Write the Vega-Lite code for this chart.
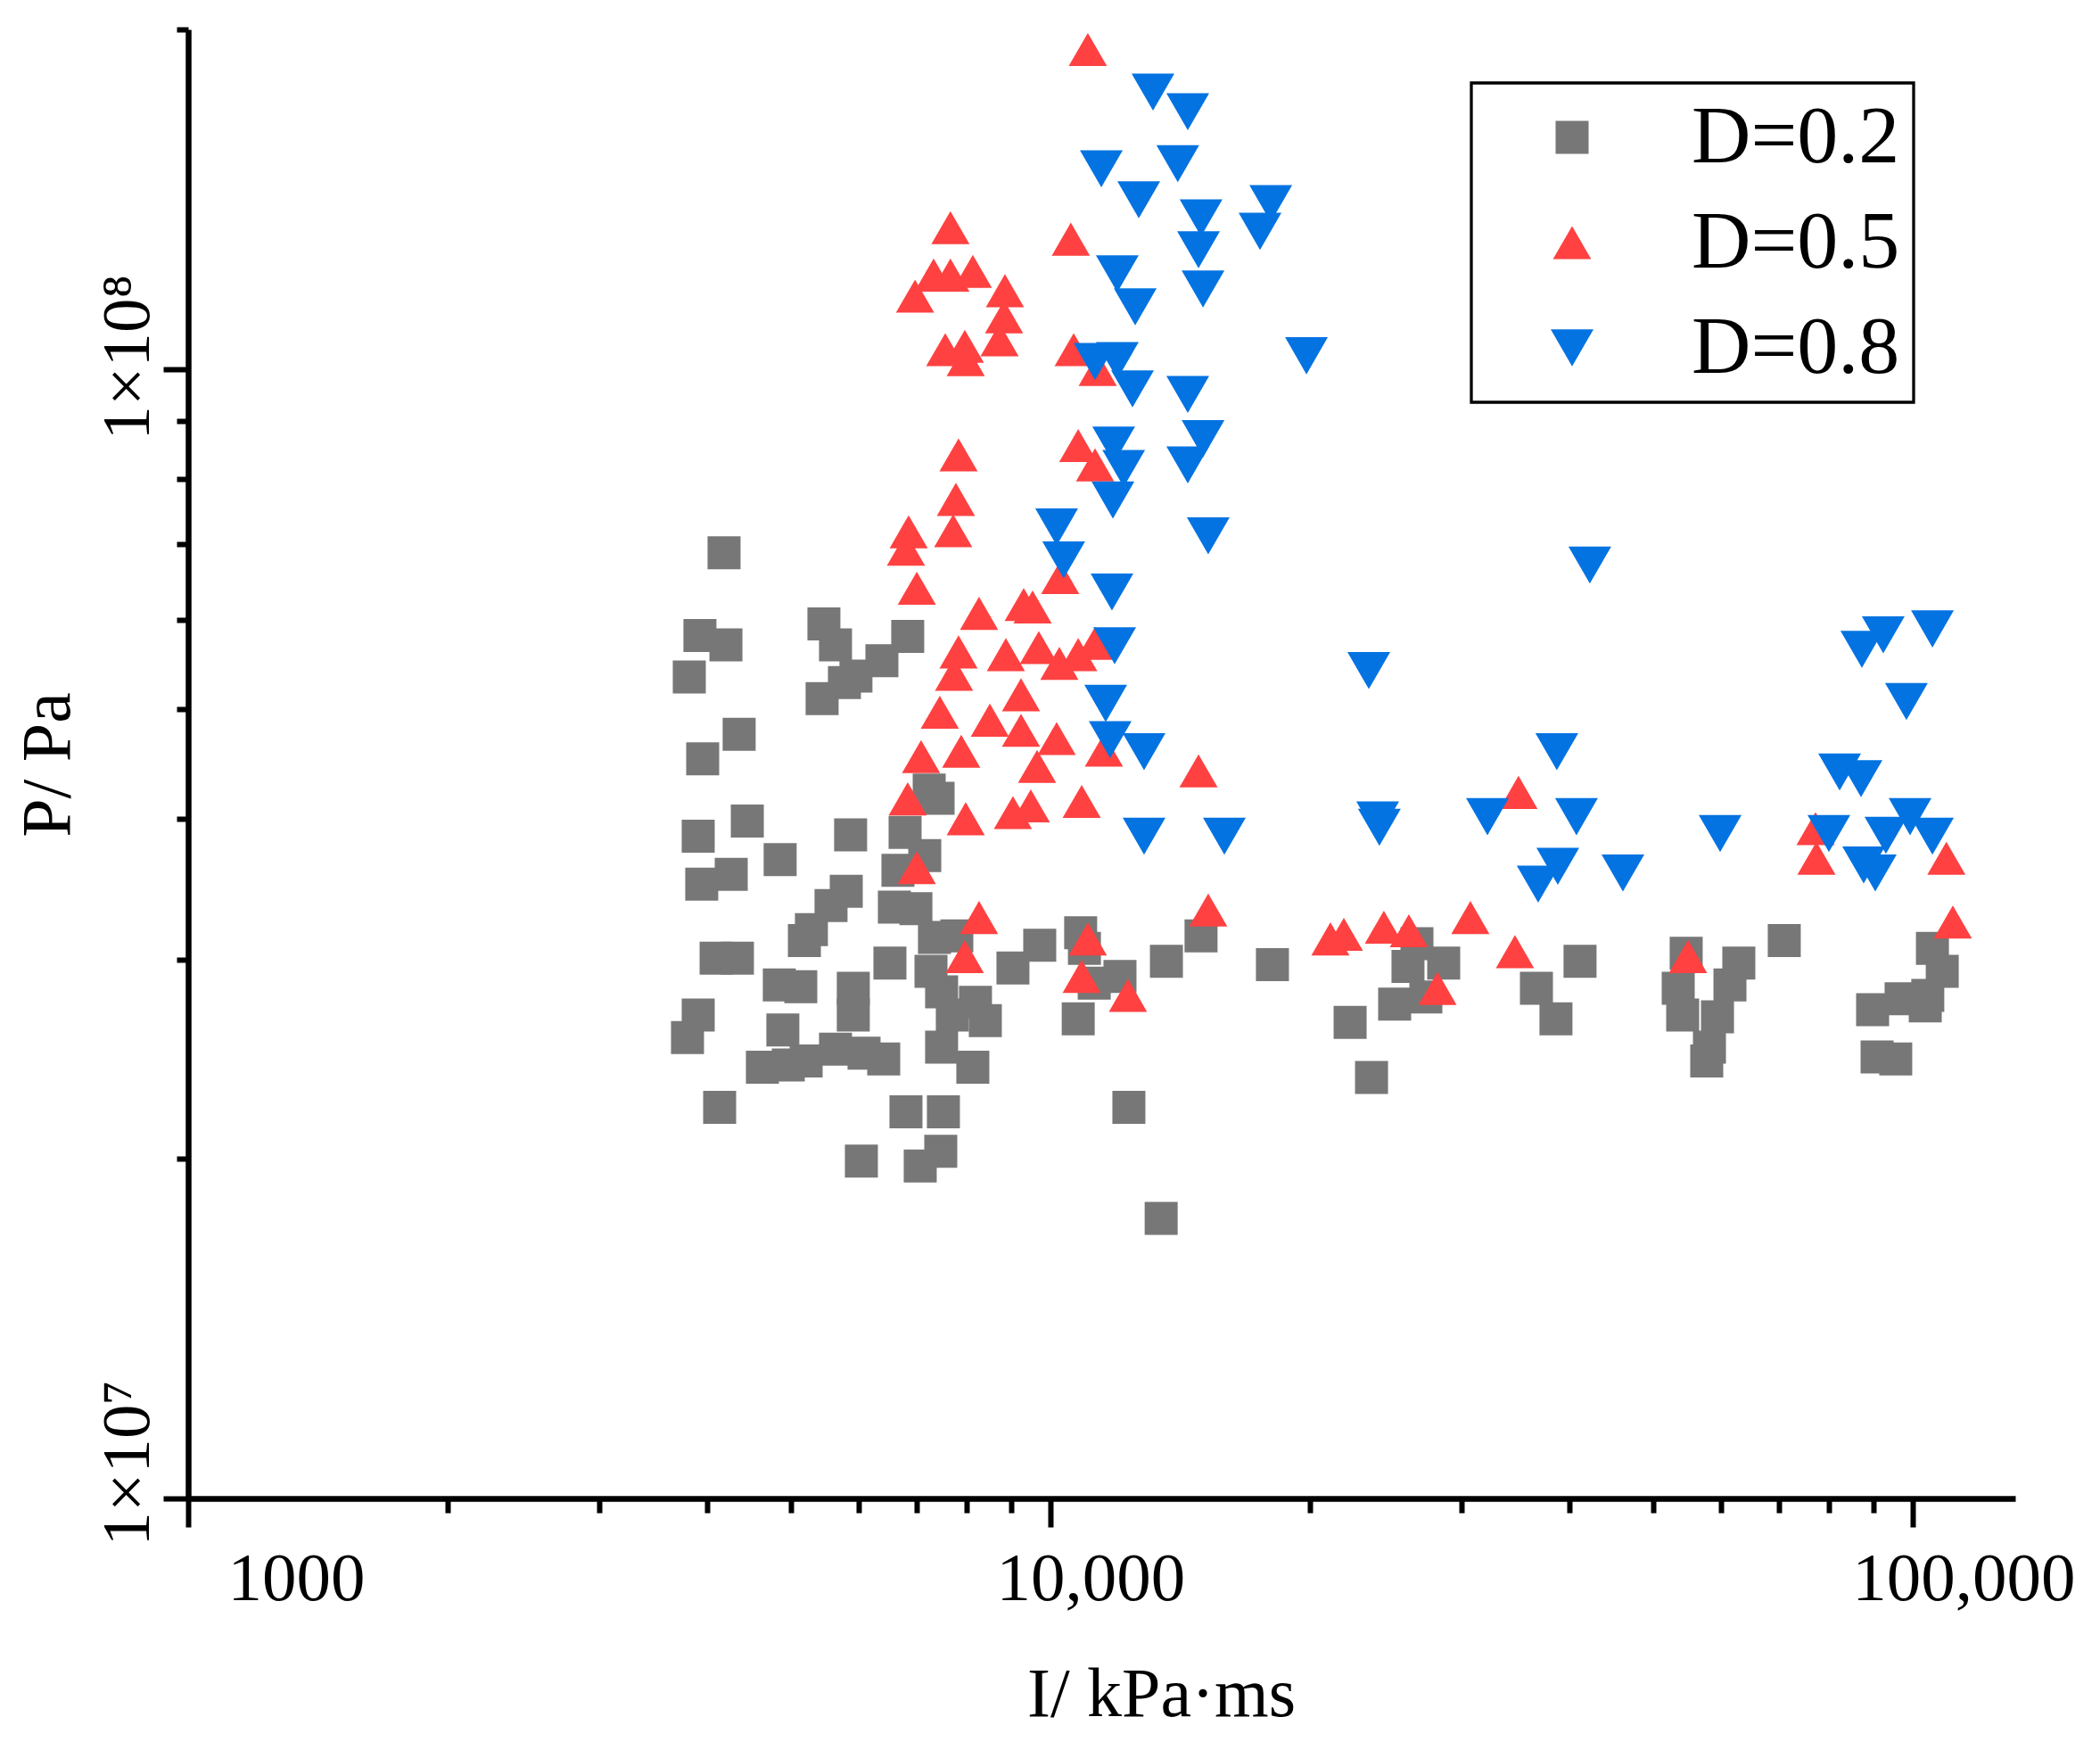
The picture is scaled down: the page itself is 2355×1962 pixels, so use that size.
{
  "$schema": "https://vega.github.io/schema/vega-lite/v6.json",
  "autosize": "none",
  "width": 2049,
  "height": 1647,
  "padding": {"left": 211, "top": 33, "right": 95, "bottom": 282},
  "background": "white",
  "config": {
    "view": {"stroke": null},
    "font": "Liberation Serif",
    "legend": {"strokeWidth": 3.3},
    "axis": {
      "grid": false,
      "domainColor": "black",
      "domainWidth": 6.5,
      "tickColor": "black",
      "tickWidth": 6,
      "labelColor": "black",
      "labelFont": "Liberation Serif",
      "labelFontSize": 77,
      "labelLimit": 0,
      "titleColor": "black",
      "titleFont": "Liberation Serif",
      "titleFontSize": 78,
      "titleFontWeight": "normal",
      "titleLimit": 0,
      "labelOverlap": false,
      "labelFlush": false,
      "labelBound": false
    }
  },
  "data": {
    "values": [
      {"D": "D=0.2", "I": 4183, "P": 68800000},
      {"D": "D=0.2", "I": 3922, "P": 58100000},
      {"D": "D=0.2", "I": 4204, "P": 57000000},
      {"D": "D=0.2", "I": 3812, "P": 53400000},
      {"D": "D=0.2", "I": 5461, "P": 59500000},
      {"D": "D=0.2", "I": 5633, "P": 57000000},
      {"D": "D=0.2", "I": 6831, "P": 58000000},
      {"D": "D=0.2", "I": 6376, "P": 55200000},
      {"D": "D=0.2", "I": 5949, "P": 53500000},
      {"D": "D=0.2", "I": 5769, "P": 52800000},
      {"D": "D=0.2", "I": 5435, "P": 51100000},
      {"D": "D=0.2", "I": 4355, "P": 47500000},
      {"D": "D=0.2", "I": 3951, "P": 45200000},
      {"D": "D=0.2", "I": 7234, "P": 42400000},
      {"D": "D=0.2", "I": 7408, "P": 41700000},
      {"D": "D=0.2", "I": 4451, "P": 39800000},
      {"D": "D=0.2", "I": 3904, "P": 38600000},
      {"D": "D=0.2", "I": 5865, "P": 38700000},
      {"D": "D=0.2", "I": 6783, "P": 38900000},
      {"D": "D=0.2", "I": 7149, "P": 37100000},
      {"D": "D=0.2", "I": 4859, "P": 36800000},
      {"D": "D=0.2", "I": 4264, "P": 35700000},
      {"D": "D=0.2", "I": 3941, "P": 35000000},
      {"D": "D=0.2", "I": 6655, "P": 36000000},
      {"D": "D=0.2", "I": 5797, "P": 34500000},
      {"D": "D=0.2", "I": 5566, "P": 33500000},
      {"D": "D=0.2", "I": 5282, "P": 31900000},
      {"D": "D=0.2", "I": 5184, "P": 31200000},
      {"D": "D=0.2", "I": 4095, "P": 30100000},
      {"D": "D=0.2", "I": 4335, "P": 30100000},
      {"D": "D=0.2", "I": 6592, "P": 33400000},
      {"D": "D=0.2", "I": 6982, "P": 33300000},
      {"D": "D=0.2", "I": 7337, "P": 31400000},
      {"D": "D=0.2", "I": 7788, "P": 31500000},
      {"D": "D=0.2", "I": 6514, "P": 29800000},
      {"D": "D=0.2", "I": 7269, "P": 29300000},
      {"D": "D=0.2", "I": 7478, "P": 28100000},
      {"D": "D=0.2", "I": 8186, "P": 27500000},
      {"D": "D=0.2", "I": 7695, "P": 26800000},
      {"D": "D=0.2", "I": 8404, "P": 26500000},
      {"D": "D=0.2", "I": 7478, "P": 25100000},
      {"D": "D=0.2", "I": 8128, "P": 24100000},
      {"D": "D=0.2", "I": 9047, "P": 29500000},
      {"D": "D=0.2", "I": 9718, "P": 30900000},
      {"D": "D=0.2", "I": 10840, "P": 31700000},
      {"D": "D=0.2", "I": 10950, "P": 30700000},
      {"D": "D=0.2", "I": 11240, "P": 28600000},
      {"D": "D=0.2", "I": 12040, "P": 29000000},
      {"D": "D=0.2", "I": 10770, "P": 26600000},
      {"D": "D=0.2", "I": 12330, "P": 22200000},
      {"D": "D=0.2", "I": 5907, "P": 28300000},
      {"D": "D=0.2", "I": 5907, "P": 26800000},
      {"D": "D=0.2", "I": 4848, "P": 28500000},
      {"D": "D=0.2", "I": 5134, "P": 28400000},
      {"D": "D=0.2", "I": 3904, "P": 26800000},
      {"D": "D=0.2", "I": 3794, "P": 25600000},
      {"D": "D=0.2", "I": 4894, "P": 26000000},
      {"D": "D=0.2", "I": 4634, "P": 24100000},
      {"D": "D=0.2", "I": 4966, "P": 24200000},
      {"D": "D=0.2", "I": 5208, "P": 24400000},
      {"D": "D=0.2", "I": 5633, "P": 25000000},
      {"D": "D=0.2", "I": 6079, "P": 24800000},
      {"D": "D=0.2", "I": 6407, "P": 24500000},
      {"D": "D=0.2", "I": 4134, "P": 22200000},
      {"D": "D=0.2", "I": 6799, "P": 22000000},
      {"D": "D=0.2", "I": 7514, "P": 22000000},
      {"D": "D=0.2", "I": 6036, "P": 19900000},
      {"D": "D=0.2", "I": 7461, "P": 20300000},
      {"D": "D=0.2", "I": 7063, "P": 19700000},
      {"D": "D=0.2", "I": 14950, "P": 31500000},
      {"D": "D=0.2", "I": 13630, "P": 29900000},
      {"D": "D=0.2", "I": 18090, "P": 29700000},
      {"D": "D=0.2", "I": 26610, "P": 31000000},
      {"D": "D=0.2", "I": 25980, "P": 29600000},
      {"D": "D=0.2", "I": 28580, "P": 29800000},
      {"D": "D=0.2", "I": 25070, "P": 27400000},
      {"D": "D=0.2", "I": 27250, "P": 27800000},
      {"D": "D=0.2", "I": 22260, "P": 26400000},
      {"D": "D=0.2", "I": 36610, "P": 28300000},
      {"D": "D=0.2", "I": 38570, "P": 26600000},
      {"D": "D=0.2", "I": 23570, "P": 23600000},
      {"D": "D=0.2", "I": 13440, "P": 17700000},
      {"D": "D=0.2", "I": 41130, "P": 29900000},
      {"D": "D=0.2", "I": 54610, "P": 30400000},
      {"D": "D=0.2", "I": 53460, "P": 28300000},
      {"D": "D=0.2", "I": 61380, "P": 28500000},
      {"D": "D=0.2", "I": 62850, "P": 29800000},
      {"D": "D=0.2", "I": 54100, "P": 26800000},
      {"D": "D=0.2", "I": 59370, "P": 26700000},
      {"D": "D=0.2", "I": 58110, "P": 25100000},
      {"D": "D=0.2", "I": 57690, "P": 24400000},
      {"D": "D=0.2", "I": 70960, "P": 31200000},
      {"D": "D=0.2", "I": 105400, "P": 30700000},
      {"D": "D=0.2", "I": 108200, "P": 29300000},
      {"D": "D=0.2", "I": 104100, "P": 27900000},
      {"D": "D=0.2", "I": 96940, "P": 27700000},
      {"D": "D=0.2", "I": 103400, "P": 27300000},
      {"D": "D=0.2", "I": 89840, "P": 27100000},
      {"D": "D=0.2", "I": 90920, "P": 24600000},
      {"D": "D=0.2", "I": 95560, "P": 24500000},
      {"D": "D=0.5", "I": 11050, "P": 192000000},
      {"D": "D=0.5", "I": 7656, "P": 133500000},
      {"D": "D=0.5", "I": 10560, "P": 130400000},
      {"D": "D=0.5", "I": 7320, "P": 121200000},
      {"D": "D=0.5", "I": 7656, "P": 121200000},
      {"D": "D=0.5", "I": 8128, "P": 122100000},
      {"D": "D=0.5", "I": 6966, "P": 116100000},
      {"D": "D=0.5", "I": 8856, "P": 117400000},
      {"D": "D=0.5", "I": 8835, "P": 111300000},
      {"D": "D=0.5", "I": 8730, "P": 106200000},
      {"D": "D=0.5", "I": 7551, "P": 104100000},
      {"D": "D=0.5", "I": 7956, "P": 104800000},
      {"D": "D=0.5", "I": 7975, "P": 102000000},
      {"D": "D=0.5", "I": 10640, "P": 104100000},
      {"D": "D=0.5", "I": 11345, "P": 100000000},
      {"D": "D=0.5", "I": 7824, "P": 84000000},
      {"D": "D=0.5", "I": 10770, "P": 85600000},
      {"D": "D=0.5", "I": 11265, "P": 82300000},
      {"D": "D=0.5", "I": 7769, "P": 76700000},
      {"D": "D=0.5", "I": 6848, "P": 71800000},
      {"D": "D=0.5", "I": 7713, "P": 71950000},
      {"D": "D=0.5", "I": 6799, "P": 69300000},
      {"D": "D=0.5", "I": 6999, "P": 64000000},
      {"D": "D=0.5", "I": 8264, "P": 60800000},
      {"D": "D=0.5", "I": 9311, "P": 61900000},
      {"D": "D=0.5", "I": 9535, "P": 61600000},
      {"D": "D=0.5", "I": 10264, "P": 65400000},
      {"D": "D=0.5", "I": 7824, "P": 56200000},
      {"D": "D=0.5", "I": 8878, "P": 55900000},
      {"D": "D=0.5", "I": 9694, "P": 56700000},
      {"D": "D=0.5", "I": 10240, "P": 54900000},
      {"D": "D=0.5", "I": 10770, "P": 55900000},
      {"D": "D=0.5", "I": 11265, "P": 57200000},
      {"D": "D=0.5", "I": 7731, "P": 53700000},
      {"D": "D=0.5", "I": 9244, "P": 51500000},
      {"D": "D=0.5", "I": 7442, "P": 49700000},
      {"D": "D=0.5", "I": 8506, "P": 48900000},
      {"D": "D=0.5", "I": 9244, "P": 47900000},
      {"D": "D=0.5", "I": 7880, "P": 45900000},
      {"D": "D=0.5", "I": 10167, "P": 47100000},
      {"D": "D=0.5", "I": 7079, "P": 45400000},
      {"D": "D=0.5", "I": 9650, "P": 44500000},
      {"D": "D=0.5", "I": 11535, "P": 46000000},
      {"D": "D=0.5", "I": 6831, "P": 41650000},
      {"D": "D=0.5", "I": 7975, "P": 40000000},
      {"D": "D=0.5", "I": 9047, "P": 40500000},
      {"D": "D=0.5", "I": 9489, "P": 41060000},
      {"D": "D=0.5", "I": 10870, "P": 41430000},
      {"D": "D=0.5", "I": 6999, "P": 36200000},
      {"D": "D=0.5", "I": 8264, "P": 32700000},
      {"D": "D=0.5", "I": 7956, "P": 30200000},
      {"D": "D=0.5", "I": 11050, "P": 31300000},
      {"D": "D=0.5", "I": 10870, "P": 29000000},
      {"D": "D=0.5", "I": 12300, "P": 27900000},
      {"D": "D=0.5", "I": 14850, "P": 44100000},
      {"D": "D=0.5", "I": 34900, "P": 42200000},
      {"D": "D=0.5", "I": 15240, "P": 33200000},
      {"D": "D=0.5", "I": 30690, "P": 32700000},
      {"D": "D=0.5", "I": 21120, "P": 31300000},
      {"D": "D=0.5", "I": 21890, "P": 31600000},
      {"D": "D=0.5", "I": 24360, "P": 32060000},
      {"D": "D=0.5", "I": 26040, "P": 31830000},
      {"D": "D=0.5", "I": 34570, "P": 30500000},
      {"D": "D=0.5", "I": 28110, "P": 28300000},
      {"D": "D=0.5", "I": 77140, "P": 39200000},
      {"D": "D=0.5", "I": 77330, "P": 36900000},
      {"D": "D=0.5", "I": 109400, "P": 36900000},
      {"D": "D=0.5", "I": 111300, "P": 32400000},
      {"D": "D=0.5", "I": 54880, "P": 30200000},
      {"D": "D=0.8", "I": 13150, "P": 176000000},
      {"D": "D=0.8", "I": 14430, "P": 169100000},
      {"D": "D=0.8", "I": 11455, "P": 150500000},
      {"D": "D=0.8", "I": 14050, "P": 152100000},
      {"D": "D=0.8", "I": 12660, "P": 141300000},
      {"D": "D=0.8", "I": 18010, "P": 140200000},
      {"D": "D=0.8", "I": 14950, "P": 136200000},
      {"D": "D=0.8", "I": 17500, "P": 132500000},
      {"D": "D=0.8", "I": 14850, "P": 127600000},
      {"D": "D=0.8", "I": 11955, "P": 121500000},
      {"D": "D=0.8", "I": 15030, "P": 117800000},
      {"D": "D=0.8", "I": 12540, "P": 113600000},
      {"D": "D=0.8", "I": 19810, "P": 102800000},
      {"D": "D=0.8", "I": 11265, "P": 101600000},
      {"D": "D=0.8", "I": 11955, "P": 101800000},
      {"D": "D=0.8", "I": 12450, "P": 96100000},
      {"D": "D=0.8", "I": 14430, "P": 95000000},
      {"D": "D=0.8", "I": 11840, "P": 85700000},
      {"D": "D=0.8", "I": 12160, "P": 81700000},
      {"D": "D=0.8", "I": 15030, "P": 86800000},
      {"D": "D=0.8", "I": 14430, "P": 82300000},
      {"D": "D=0.8", "I": 11815, "P": 76600000},
      {"D": "D=0.8", "I": 10167, "P": 72500000},
      {"D": "D=0.8", "I": 10360, "P": 67800000},
      {"D": "D=0.8", "I": 11785, "P": 63500000},
      {"D": "D=0.8", "I": 11870, "P": 56900000},
      {"D": "D=0.8", "I": 11590, "P": 50600000},
      {"D": "D=0.8", "I": 11730, "P": 47000000},
      {"D": "D=0.8", "I": 15240, "P": 71200000},
      {"D": "D=0.8", "I": 12840, "P": 45850000},
      {"D": "D=0.8", "I": 23400, "P": 54100000},
      {"D": "D=0.8", "I": 42220, "P": 67100000},
      {"D": "D=0.8", "I": 38660, "P": 45850000},
      {"D": "D=0.8", "I": 12840, "P": 38600000},
      {"D": "D=0.8", "I": 15910, "P": 38600000},
      {"D": "D=0.8", "I": 23960, "P": 39900000},
      {"D": "D=0.8", "I": 24070, "P": 39300000},
      {"D": "D=0.8", "I": 32120, "P": 40160000},
      {"D": "D=0.8", "I": 40740, "P": 40160000},
      {"D": "D=0.8", "I": 38760, "P": 36300000},
      {"D": "D=0.8", "I": 36780, "P": 35000000},
      {"D": "D=0.8", "I": 87300, "P": 56500000},
      {"D": "D=0.8", "I": 92430, "P": 58200000},
      {"D": "D=0.8", "I": 105400, "P": 58900000},
      {"D": "D=0.8", "I": 98330, "P": 50800000},
      {"D": "D=0.8", "I": 46120, "P": 35800000},
      {"D": "D=0.8", "I": 59790, "P": 38800000},
      {"D": "D=0.8", "I": 82270, "P": 44000000},
      {"D": "D=0.8", "I": 87100, "P": 43400000},
      {"D": "D=0.8", "I": 79940, "P": 38800000},
      {"D": "D=0.8", "I": 99290, "P": 40160000},
      {"D": "D=0.8", "I": 93090, "P": 38660000},
      {"D": "D=0.8", "I": 105400, "P": 38600000},
      {"D": "D=0.8", "I": 87720, "P": 36400000},
      {"D": "D=0.8", "I": 90480, "P": 35800000}
    ]
  },
  "mark": {"type": "point", "filled": true, "opacity": 1, "strokeWidth": 0},
  "encoding": {
    "x": {
      "field": "I",
      "type": "quantitative",
      "scale": {"type": "log", "domain": [1000, 131500], "nice": false, "zero": false},
      "axis": {
        "title": "I/ kPa·ms",
        "values": [1000, 2000, 3000, 4000, 5000, 6000, 7000, 8000, 9000, 10000, 20000, 30000, 40000, 50000, 60000, 70000, 80000, 90000, 100000],
        "labelExpr": "datum.value == 1000 ? '1000' : datum.value == 10000 ? '10,000' : datum.value == 100000 ? '100,000' : ''",
        "tickSize": {"condition": {"test": "datum.value == 1000 || datum.value == 10000 || datum.value == 100000", "value": 32}, "value": 16},
        "labelOffset": {"condition": [{"test": "datum.value == 1000", "value": 121}, {"test": "datum.value == 100000", "value": 57}], "value": 45},
        "labelBaseline": "alphabetic",
        "labelPadding": 81,
        "titleX": 1091,
        "titleY": 243,
        "titleAlign": "center",
        "titleBaseline": "alphabetic"
      }
    },
    "y": {
      "field": "P",
      "type": "quantitative",
      "scale": {"type": "log", "domain": [10000000, 200000000], "nice": false, "zero": false},
      "axis": {
        "title": "P/ Pa",
        "values": [10000000, 20000000, 30000000, 40000000, 50000000, 60000000, 70000000, 80000000, 90000000, 100000000, 200000000],
        "labelExpr": "datum.value == 100000000 ? '1×10⁸' : datum.value == 10000000 ? '1×10⁷' : ''",
        "tickSize": {"condition": {"test": "datum.value == 10000000 || datum.value == 100000000", "value": 28}, "value": 13},
        "labelAngle": -90,
        "labelAlign": "center",
        "labelBaseline": "alphabetic",
        "labelPadding": 17,
        "labelOffset": {"condition": {"test": "datum.value == 10000000", "value": -40}, "value": -14},
        "titleAngle": -90,
        "titleX": -134,
        "titleY": 824,
        "titleAlign": "center",
        "titleBaseline": "alphabetic"
      }
    },
    "color": {
      "field": "D",
      "type": "nominal",
      "scale": {"domain": ["D=0.2", "D=0.5", "D=0.8"], "range": ["#777777", "#FF4141", "#0473E2"]},
      "legend": {
        "title": null,
        "orient": "none",
        "legendX": 1439,
        "legendY": 60,
        "strokeColor": "black",
        "fillColor": "white",
        "padding": 15,
        "symbolOffset": 52,
        "labelOffset": 88,
        "rowPadding": 26,
        "labelFont": "Liberation Serif",
        "labelFontSize": 92,
        "labelColor": "black",
        "labelLimit": 0,
        "symbolStrokeWidth": 0
      }
    },
    "shape": {
      "field": "D",
      "type": "nominal",
      "scale": {"domain": ["D=0.2", "D=0.5", "D=0.8"], "range": ["square", "triangle-up", "triangle-down"]}
    },
    "size": {
      "field": "D",
      "type": "nominal",
      "scale": {"domain": ["D=0.2", "D=0.5", "D=0.8"], "range": [1369, 2304, 2304]}
    }
  }
}
